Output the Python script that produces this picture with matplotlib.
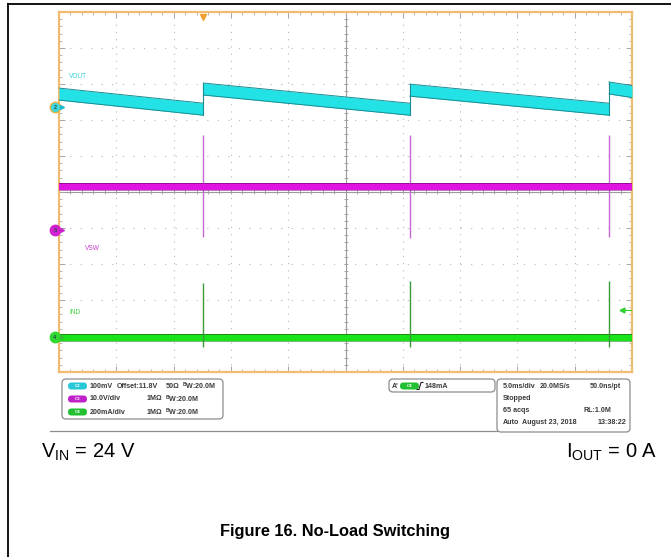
import numpy as np
import matplotlib
matplotlib.use('Agg')
from matplotlib import rcParams

rcParams['font.family'] = 'sans-serif'
rcParams['font.sans-serif'] = ['Liberation Sans', 'DejaVu Sans']
rcParams['mathtext.fontset'] = 'custom'
rcParams['mathtext.rm'] = 'Liberation Sans'
rcParams['mathtext.bf'] = 'Liberation Sans:bold'

import matplotlib.pyplot as plt
from matplotlib.patches import FancyBboxPatch
from matplotlib.ticker import MultipleLocator

# ---- scope settings ----
ch2_scale = 0.1      # V/div  (VOUT)
ch2_offset = 11.8    # V
ch2_pos = 2.36       # div
ch3_scale = 10.0     # V/div  (VSW)
ch3_pos = -1.06
ch4_scale = 200.0    # mA/div (IND)
ch4_pos = -4.03
trig_level = 148.0   # mA
t_trig = -12.4       # ms

# ---- waveforms ----
t_sw = [-12.4, 5.6, 23.0]            # switching events, ms

vout_t0 = [-25.0, -12.4, 5.6, 23.0]
vout_t1 = [-12.4, 5.6, 23.0, 25.0]
vout_v0 = [11.836, 11.850, 11.847, 11.853]
vout_v1 = [11.794, 11.794, 11.794, 11.843]

vsw_level = 12.1
vsw_hi = [26.4, 26.4, 26.4]
vsw_lo = [-1.9, -2.1, -1.9]

ind_level = -5.0
ind_hi = [300.0, 310.0, 310.0]
ind_lo = [-55.0, -55.0, -55.0]

CYAN = '#22e2e6'
CYAN_DK = '#1b8c92'
MAG = '#e014e0'
MAG_DK = '#8a108a'
MAG_SPK = '#c468d2'
GRN = '#18e418'
GRN_DK = '#1a7a1a'
GRN_SPK = '#3a9a3a'
ORANGE = '#f0bd70'
TXT = '#3a3a3a'


def d2(v):
    return ch2_pos + (np.asarray(v) - ch2_offset) / ch2_scale


def d3(v):
    return ch3_pos + np.asarray(v) / ch3_scale


def d4(i):
    return ch4_pos + np.asarray(i) / ch4_scale


fig = plt.figure(figsize=(6.71, 5.57), dpi=100)

# background / page axes in pixel coordinates
bg = fig.add_axes([0, 0, 1, 1])
bg.set_xlim(0, 671)
bg.set_ylim(557, 0)
bg.axis('off')

bg.plot([8, 671], [4, 4], color='black', lw=1.3)
bg.plot([8, 8], [4, 557], color='black', lw=1.3)

# ---- scope screen ----
ax = fig.add_axes([59 / 671, (557 - 372) / 557, 573 / 671, 360 / 557])
ax.set_xlim(-25, 25)
ax.set_ylim(-5, 5)
for sp in ax.spines.values():
    sp.set_color(ORANGE)
    sp.set_linewidth(1.6)
ax.xaxis.set_major_locator(MultipleLocator(5))
ax.xaxis.set_minor_locator(MultipleLocator(1))
ax.yaxis.set_major_locator(MultipleLocator(1))
ax.yaxis.set_minor_locator(MultipleLocator(0.2))
ax.tick_params(which='both', direction='in', color='#a8a8a8', top=True, right=True,
               labelbottom=False, labelleft=False)
ax.tick_params(which='major', length=4, width=0.7)
ax.tick_params(which='minor', length=2.2, width=0.6)

# dotted graticule
for x in np.arange(-20, 21, 5):
    if x != 0:
        ax.axvline(x, color='#b8b8b8', lw=0.8, ls=(0, (1, 5.5)), zorder=1)
for y in np.arange(-4, 5, 1):
    if y != 0:
        ax.axhline(y, color='#b8b8b8', lw=0.8, ls=(0, (1, 8.5)), zorder=1)
# centre cross with minor ticks
ax.axvline(0, color='#9a9a9a', lw=0.8, zorder=1)
ax.axhline(0, color='#9a9a9a', lw=0.8, zorder=1)
ax.plot(np.arange(-25, 25.01, 1), np.zeros(51), ls='none', marker='|',
        ms=3.5, mew=0.6, color='#9a9a9a', zorder=1)
ax.plot(np.zeros(51), np.arange(-5, 5.01, 0.2), ls='none', marker='_',
        ms=3.5, mew=0.6, color='#9a9a9a', zorder=1)

# VOUT band
h2 = 6 / 36
for t0, t1, v0, v1 in zip(vout_t0, vout_t1, vout_v0, vout_v1):
    y0, y1 = d2(v0), d2(v1)
    ax.fill_between([t0, t1], [y0 - h2, y1 - h2], [y0 + h2, y1 + h2],
                    color=CYAN, lw=0, zorder=4)
    ax.plot([t0, t1], [y0 + h2, y1 + h2], color=CYAN_DK, lw=0.7, zorder=5)
    ax.plot([t0, t1], [y0 - h2, y1 - h2], color=CYAN_DK, lw=0.7, zorder=5)
for k in range(len(t_sw)):
    ax.plot([vout_t1[k], vout_t0[k + 1]],
            [d2(vout_v1[k]) - h2, d2(vout_v0[k + 1]) + h2],
            color=CYAN_DK, lw=0.8, zorder=5)

# VSW band and spikes
h3 = 3.5 / 36
ax.vlines(t_sw, d3(vsw_lo), d3(vsw_hi), color=MAG_SPK, lw=1.0, zorder=3)
ax.fill_between([-25, 25], d3(vsw_level) - h3, d3(vsw_level) + h3,
                color=MAG, lw=0, zorder=4)
ax.plot([-25, 25], [d3(vsw_level) + h3] * 2, color=MAG_DK, lw=0.6, zorder=5)
ax.plot([-25, 25], [d3(vsw_level) - h3] * 2, color=MAG_DK, lw=0.4, zorder=5)

# IND band and spikes
h4 = 3.5 / 36
ax.fill_between([-25, 25], d4(ind_level) - h4, d4(ind_level) + h4,
                color=GRN, lw=0, zorder=4)
ax.plot([-25, 25], [d4(ind_level) + h4] * 2, color=GRN_DK, lw=0.6, zorder=5)
ax.plot([-25, 25], [d4(ind_level) - h4] * 2, color=GRN_DK, lw=0.4, zorder=5)
ax.vlines(t_sw, d4(ind_lo), d4(ind_hi), color=GRN_SPK, lw=1.0, zorder=6)

# trace labels
ax.text(-24.1, 3.22, 'VOUT', color='#3ad0dc', fontsize=4.7, va='center', zorder=7)
ax.text(-22.7, -1.56, 'VSW', color='#c040c8', fontsize=4.7, va='center', zorder=7)
ax.text(-24.1, -3.36, 'IND', color='#40d040', fontsize=4.7, va='center', zorder=7)

# channel ground / position markers
for num, pos, fc, ec, ac in [('2', ch2_pos, '#3cd8e0', '#e8b040', '#1ab8c8'),
                             ('3', ch3_pos, '#d020d0', '#d020d0', '#d020d0'),
                             ('4', ch4_pos, '#30d830', '#30d830', '#30c030')]:
    ax.plot(-25.35, pos, marker='o', ms=7.5, mfc=fc, mec=ec, mew=1.0,
            clip_on=False, zorder=9)
    ax.text(-25.35, pos, num, fontsize=4, fontweight='bold', color='#205050',
            ha='center', va='center', clip_on=False, zorder=10)
    ax.plot(-24.75, pos, marker='>', ms=2.8, color=ac, clip_on=False, zorder=9)

# trigger position and level markers
ax.plot(t_trig, 4.87, marker='v', ms=4.5, color='#f0a030', clip_on=False, zorder=9)
ax.plot([24.1, 25], [d4(trig_level)] * 2, color='#30d030', lw=0.8, zorder=9)
ax.plot(24.1, d4(trig_level), marker='<', ms=3.5, color='#30d030', zorder=9)

# ---- readout boxes ----
def rbox(x, y, w, h):
    bg.add_patch(FancyBboxPatch((x, y), w, h, boxstyle='round,pad=0,rounding_size=4',
                                fc='white', ec='#8c8c8c', lw=0.9, zorder=3))


def pill(x, y, color, label):
    bg.add_patch(FancyBboxPatch((x, y - 3.5), 19, 7, boxstyle='round,pad=0,rounding_size=3.5',
                                fc=color, ec='none', zorder=4))
    bg.text(x + 9.5, y, label, fontsize=3.2, color='white', fontweight='bold',
            ha='center', va='center', zorder=5)


fs = 5.1
bg.plot([50, 497], [431, 431], color='#8c8c8c', lw=0.9, zorder=2)

rbox(62, 379, 161, 40)
rows = [386, 399, 412]
pill(68, rows[0], '#28c8d8', 'C2')
pill(68, rows[1], '#c020c8', 'C3')
pill(68, rows[2], '#20c030', 'C4')
bw = r'$^{\mathbf{B}}$W:20.0M'
bg.text(90, rows[0], '100mV', fontsize=fs, fontweight='bold', color=TXT, va='center')
bg.text(117, rows[0], 'Offset:11.8V', fontsize=fs, fontweight='bold', color=TXT, va='center')
bg.text(166, rows[0], '50\u03a9', fontsize=fs, fontweight='bold', color=TXT, va='center')
bg.text(182, rows[0], bw, fontsize=fs, fontweight='bold', color=TXT, va='center')
bg.text(90, rows[1], '10.0V/div', fontsize=fs, fontweight='bold', color=TXT, va='center')
bg.text(147, rows[1], '1M\u03a9', fontsize=fs, fontweight='bold', color=TXT, va='center')
bg.text(165, rows[1], bw, fontsize=fs, fontweight='bold', color=TXT, va='center')
bg.text(90, rows[2], '200mA/div', fontsize=fs, fontweight='bold', color=TXT, va='center')
bg.text(147, rows[2], '1M\u03a9', fontsize=fs, fontweight='bold', color=TXT, va='center')
bg.text(165, rows[2], bw, fontsize=fs, fontweight='bold', color=TXT, va='center')

rbox(389, 379, 106, 13)
bg.text(392, 386, "A'", fontsize=fs, fontweight='bold', color=TXT, va='center')
pill(400, 386, '#20c030', 'C4')
bg.plot([417, 419, 421, 423], [389.5, 389.5, 382.5, 382.5], color='#222222', lw=0.8, zorder=5)
bg.text(425, 386, '148mA', fontsize=fs, fontweight='bold', color=TXT, va='center')

rbox(497, 379, 133, 53)
bg.text(503, 386, '5.0ms/div', fontsize=fs, fontweight='bold', color=TXT, va='center')
bg.text(540, 386, '20.0MS/s', fontsize=fs, fontweight='bold', color=TXT, va='center')
bg.text(621, 386, '50.0ns/pt', fontsize=fs, fontweight='bold', color=TXT, va='center', ha='right')
bg.text(503, 399, 'Stopped', fontsize=fs, fontweight='bold', color=TXT, va='center')
bg.text(503, 411, '65 acqs', fontsize=fs, fontweight='bold', color=TXT, va='center')
bg.text(611, 411, 'RL:1.0M', fontsize=fs, fontweight='bold', color=TXT, va='center', ha='right')
bg.text(503, 423, 'Auto', fontsize=fs, fontweight='bold', color=TXT, va='center')
bg.text(522, 423, 'August 23, 2018', fontsize=fs, fontweight='bold', color=TXT, va='center')
bg.text(626, 423, '13:38:22', fontsize=fs, fontweight='bold', color=TXT, va='center', ha='right')

# ---- conditions and caption ----
bg.text(41, 458, r'V$_{\mathrm{IN}}$ = 24 V', fontsize=14.5, va='baseline', color='black')
bg.text(657, 458, r'I$_{\mathrm{OUT}}$ = 0 A', fontsize=14.5, va='baseline', ha='right', color='black')
bg.text(335, 536, 'Figure 16. No-Load Switching', fontsize=11.8, fontweight='bold',
        va='baseline', ha='center', color='black')

fig.savefig('out.png', dpi=100)
